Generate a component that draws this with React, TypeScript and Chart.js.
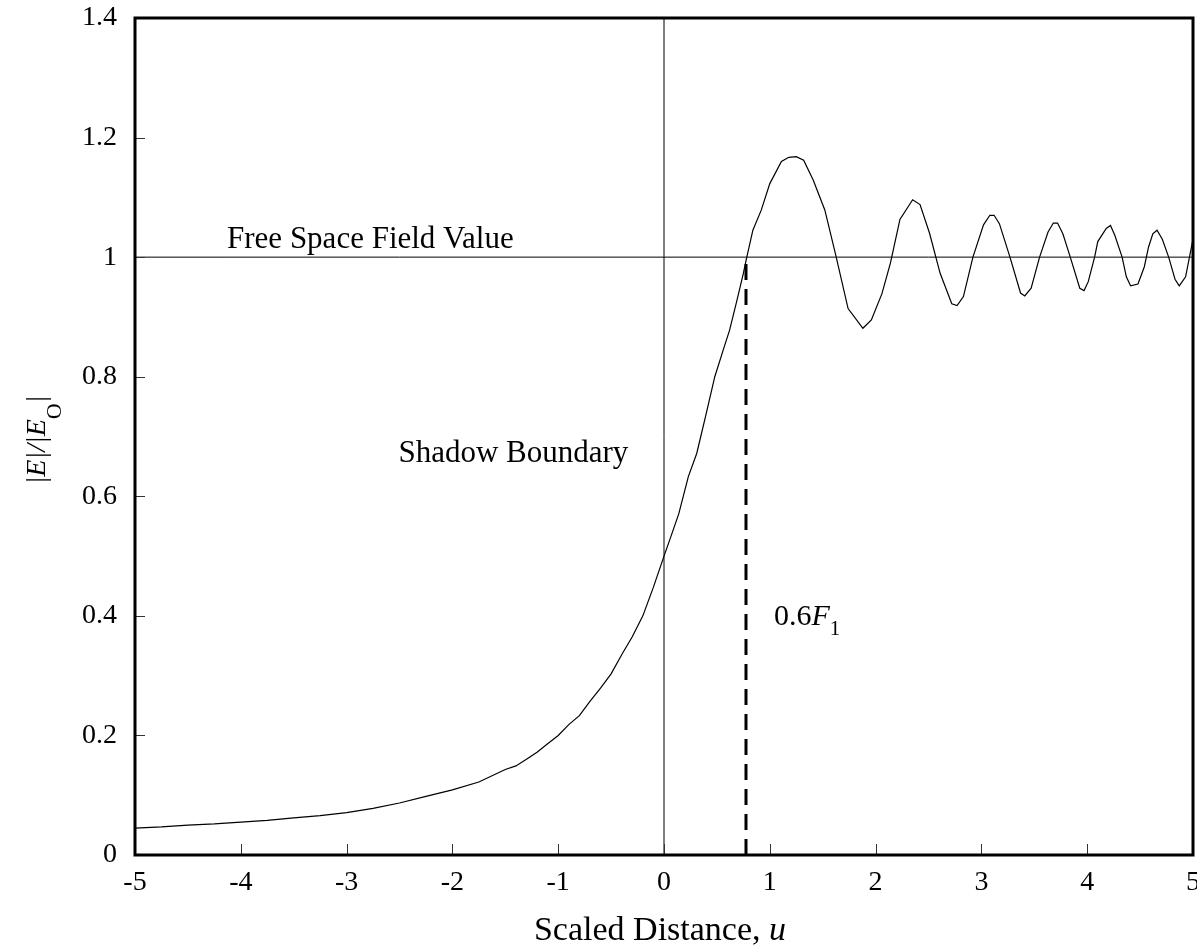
import React, { useEffect, useRef } from "react";
import { Chart, registerables } from "chart.js";

Chart.register(...registerables);

// ---- data ----
const uValues = [
  -5.0, -4.75, -4.5, -4.25, -4.0, -3.75, -3.5, -3.25, -3.0, -2.75, -2.5, -2.25, -2.0, -1.75,
  -1.5, -1.4, -1.3, -1.2, -1.1, -1.0, -0.9, -0.8, -0.7, -0.6, -0.5, -0.4, -0.3, -0.2, -0.1,
  0.0, 0.06, 0.14, 0.23, 0.31, 0.4, 0.48, 0.56, 0.62, 0.69, 0.75, 0.78, 0.84, 0.92, 1.0,
  1.11, 1.18, 1.25, 1.32, 1.41, 1.52, 1.62, 1.74, 1.88, 1.96, 2.06, 2.14, 2.23, 2.35, 2.42,
  2.51, 2.61, 2.72, 2.77, 2.83, 2.92, 3.02, 3.08, 3.12, 3.17, 3.27, 3.37, 3.41, 3.47, 3.55,
  3.63, 3.68, 3.72, 3.77, 3.84, 3.93, 3.97, 4.01, 4.07, 4.1, 4.18, 4.22, 4.26, 4.33, 4.37,
  4.41, 4.48, 4.54, 4.58, 4.62, 4.66, 4.71, 4.77, 4.83, 4.87, 4.93, 5.0,
];
const fieldValues = [
  0.045, 0.047, 0.05, 0.052, 0.055, 0.058, 0.062, 0.066, 0.071, 0.078, 0.087, 0.098, 0.109, 0.122,
  0.143, 0.149, 0.16, 0.172, 0.186, 0.2, 0.218, 0.233, 0.257, 0.279, 0.303, 0.335, 0.365, 0.4, 0.448,
  0.5, 0.53, 0.571, 0.633, 0.672, 0.739, 0.8, 0.845, 0.878, 0.928, 0.973, 0.998, 1.045, 1.079, 1.123,
  1.16, 1.167, 1.168, 1.162, 1.129, 1.079, 1.006, 0.914, 0.881, 0.895, 0.939, 0.99, 1.063, 1.096, 1.088,
  1.04, 0.973, 0.922, 0.919, 0.934, 1.0, 1.054, 1.07, 1.07, 1.056, 1.0, 0.94, 0.935, 0.948, 1.0,
  1.042, 1.057, 1.057, 1.039, 1.0, 0.948, 0.944, 0.959, 1.0, 1.026, 1.048, 1.053, 1.037, 1.0, 0.967,
  0.952, 0.955, 0.984, 1.017, 1.039, 1.045, 1.03, 1.0, 0.963, 0.952, 0.967, 1.03,
];
const xTickValues = [-5, -4, -3, -2, -1, 0, 1, 2, 3, 4, 5];
const xTickLabels = ["-5", "-4", "-3", "-2", "-1", "0", "1", "2", "3", "4", "5"];
const yTickValues = [0, 0.2, 0.4, 0.6, 0.8, 1.0, 1.2, 1.4];
const yTickLabels = ["0", "0.2", "0.4", "0.6", "0.8", "1", "1.2", "1.4"];
const freeSpaceLevel = 1;
const shadowBoundaryU = 0;
const fresnelClearanceU = 0.775;
const xRange = [-5, 5];
const yRange = [0, 1.4];

const SERIF = '"Liberation Serif", "Times New Roman", Times, serif';

const decorPlugin = {
  id: "decor",
  afterDraw(chart: any) {
    const ctx = chart.ctx as CanvasRenderingContext2D;
    const xs = chart.scales.x;
    const ys = chart.scales.y;
    const area = chart.chartArea;
    ctx.save();

    // inward tick marks
    ctx.strokeStyle = "#333";
    ctx.lineWidth = 1;
    ctx.beginPath();
    xTickValues.forEach((v) => {
      const px = Math.round(xs.getPixelForValue(v)) + 0.5;
      ctx.moveTo(px, area.bottom);
      ctx.lineTo(px, area.bottom - 11);
    });
    yTickValues.forEach((v) => {
      const py = Math.round(ys.getPixelForValue(v)) + 0.5;
      ctx.moveTo(area.left, py);
      ctx.lineTo(area.left + 10, py);
    });
    ctx.stroke();

    // frame
    ctx.strokeStyle = "#000";
    ctx.lineWidth = 3;
    ctx.strokeRect(area.left, area.top, area.right - area.left, area.bottom - area.top);

    // annotations
    ctx.fillStyle = "#000";
    ctx.textBaseline = "alphabetic";
    ctx.textAlign = "left";
    ctx.font = `31px ${SERIF}`;
    ctx.fillText("Free Space Field Value", xs.getPixelForValue(-4.13), ys.getPixelForValue(1.015));
    ctx.fillText("Shadow Boundary", xs.getPixelForValue(-2.51), ys.getPixelForValue(0.657));

    let fx = xs.getPixelForValue(1.04);
    const fy = ys.getPixelForValue(0.385);
    ctx.font = `30px ${SERIF}`;
    ctx.fillText("0.6", fx, fy);
    fx += ctx.measureText("0.6").width;
    ctx.font = `italic 30px ${SERIF}`;
    ctx.fillText("F", fx, fy);
    fx += ctx.measureText("F").width;
    ctx.font = `21px ${SERIF}`;
    ctx.fillText("1", fx, fy + 10);

    // x axis title
    ctx.font = `34px ${SERIF}`;
    const t1 = "Scaled Distance, ";
    const w1 = ctx.measureText(t1).width;
    ctx.font = `italic 34px ${SERIF}`;
    const w2 = ctx.measureText("u").width;
    const cx = (area.left + area.right) / 2 - 4;
    const tx = cx - (w1 + w2) / 2;
    ctx.font = `34px ${SERIF}`;
    ctx.fillText(t1, tx, 940);
    ctx.font = `italic 34px ${SERIF}`;
    ctx.fillText("u", tx + w1, 940);

    // y axis title (rotated)
    const parts: { t: string; f: string; dy: number }[] = [
      { t: "|", f: `italic 28px ${SERIF}`, dy: 0 },
      { t: "E", f: `italic 28px ${SERIF}`, dy: 0 },
      { t: "|/|", f: `italic 28px ${SERIF}`, dy: 0 },
      { t: "E", f: `italic 28px ${SERIF}`, dy: 0 },
      { t: "O", f: `22px ${SERIF}`, dy: 16 },
      { t: "|", f: `italic 28px ${SERIF}`, dy: 0 },
    ];
    let total = 0;
    parts.forEach((p) => {
      ctx.font = p.f;
      total += ctx.measureText(p.t).width;
    });
    ctx.translate(45, 440);
    ctx.rotate(-Math.PI / 2);
    let px = -total / 2;
    parts.forEach((p) => {
      ctx.font = p.f;
      ctx.fillText(p.t, px, p.dy);
      px += ctx.measureText(p.t).width;
    });
    ctx.restore();
  },
};

export default function App() {
  const ref = useRef<HTMLCanvasElement | null>(null);

  useEffect(() => {
    if (!ref.current) return;
    const curve = uValues.map((u, i) => ({ x: u, y: fieldValues[i] }));
    const chart = new Chart(ref.current, {
      type: "scatter",
      data: {
        datasets: [
          {
            data: curve,
            showLine: true,
            borderColor: "#000",
            borderWidth: 1.2,
            pointRadius: 0,
            tension: 0,
          },
          {
            data: [
              { x: xRange[0], y: freeSpaceLevel },
              { x: xRange[1], y: freeSpaceLevel },
            ],
            showLine: true,
            borderColor: "#000",
            borderWidth: 1,
            pointRadius: 0,
          },
          {
            data: [
              { x: shadowBoundaryU, y: yRange[0] },
              { x: shadowBoundaryU, y: yRange[1] },
            ],
            showLine: true,
            borderColor: "#000",
            borderWidth: 1,
            pointRadius: 0,
          },
          {
            data: [
              { x: fresnelClearanceU, y: yRange[0] },
              { x: fresnelClearanceU, y: freeSpaceLevel },
            ],
            showLine: true,
            borderColor: "#000",
            borderWidth: 3,
            borderDash: [16, 9],
            pointRadius: 0,
          },
        ],
      } as any,
      options: {
        animation: false,
        responsive: false,
        maintainAspectRatio: false,
        devicePixelRatio: 1,
        layout: { padding: { left: 0, top: 18, right: 22, bottom: 0 } },
        plugins: { legend: { display: false }, tooltip: { enabled: false } },
        scales: {
          x: {
            type: "linear",
            min: xRange[0],
            max: xRange[1],
            grid: { display: false, drawTicks: false },
            border: { display: false },
            ticks: {
              color: "#000",
              font: { family: SERIF, size: 28 },
              padding: 11,
              maxRotation: 0,
              autoSkip: false,
              callback: (v: any) => {
                const i = xTickValues.indexOf(Number(v));
                return i >= 0 ? xTickLabels[i] : "";
              },
            },
            afterBuildTicks: (s: any) => {
              s.ticks = xTickValues.map((v) => ({ value: v }));
            },
            afterFit: (s: any) => {
              s.height = 92;
              s.paddingLeft = 0;
              s.paddingRight = 0;
            },
          },
          y: {
            type: "linear",
            min: yRange[0],
            max: yRange[1],
            grid: { display: false, drawTicks: false },
            border: { display: false },
            ticks: {
              color: "#000",
              font: { family: SERIF, size: 28 },
              padding: 18,
              autoSkip: false,
              callback: (v: any) => {
                const i = yTickValues.findIndex((t) => Math.abs(t - Number(v)) < 1e-6);
                return i >= 0 ? yTickLabels[i] : "";
              },
            },
            afterBuildTicks: (s: any) => {
              s.ticks = yTickValues.map((v) => ({ value: v }));
            },
            afterFit: (s: any) => {
              s.width = 135;
              s.paddingTop = 0;
              s.paddingBottom = 0;
            },
          },
        },
      } as any,
      plugins: [decorPlugin],
    });
    return () => chart.destroy();
  }, []);

  return (
    <div
      style={{
        position: "fixed",
        left: 0,
        top: 0,
        width: 1197,
        height: 947,
        overflow: "hidden",
        background: "#fff",
      }}
    >
      <canvas ref={ref} width={1215} height={947} style={{ display: "block", width: 1215, height: 947 }} />
    </div>
  );
}
